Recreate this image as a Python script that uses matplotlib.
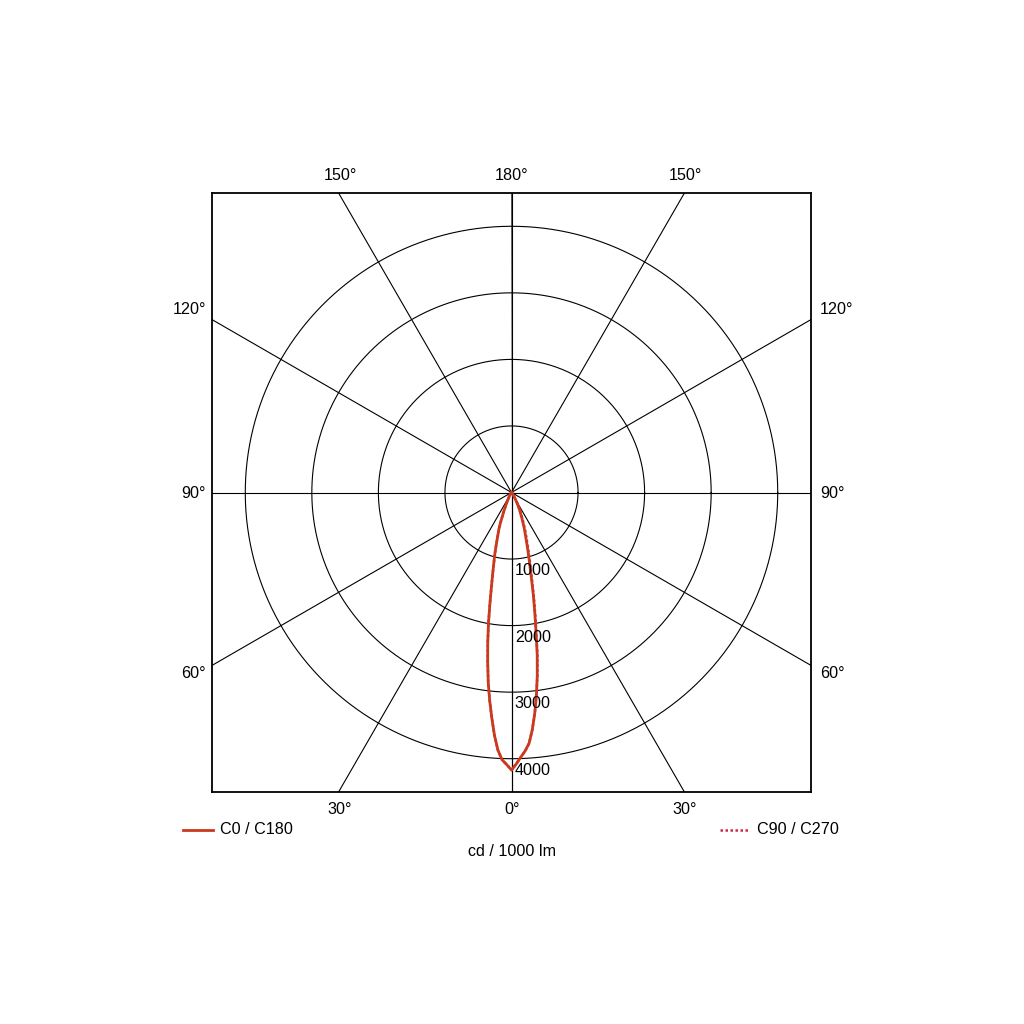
import numpy as np
import matplotlib
matplotlib.use("Agg")
import matplotlib.pyplot as plt

plt.rcParams['font.family'] = ['Liberation Sans', 'DejaVu Sans']

# Photometric data (cd / 1000 lm)
gamma = [0, 1, 2, 3, 4, 5, 6, 7, 8, 9, 10, 11, 12, 13, 14, 15, 16, 17, 18, 19, 20,
         22, 25, 28, 30, 35, 40, 45, 50, 60, 70, 80, 90]
c0   = [4170, 4080, 3980, 3890, 3780, 3580, 3340, 3070, 2780, 2470, 2120, 1830, 1580, 1340,
        1150, 1010, 880, 770, 680, 610, 540, 420, 283, 170, 110, 40, 10, 0, 0, 0, 0, 0, 0]
c180 = [4170, 4090, 4020, 3880, 3660, 3400, 3140, 2870, 2570, 2280, 1990, 1700, 1450, 1260,
        1100, 980, 850, 740, 650, 580, 490, 320, 170, 90, 60, 20, 5, 0, 0, 0, 0, 0, 0]
c90  = [4170, 4080, 3980, 3890, 3780, 3580, 3340, 3070, 2790, 2490, 2150, 1870, 1620, 1390,
        1200, 1060, 930, 830, 740, 660, 590, 460, 320, 200, 130, 50, 12, 0, 0, 0, 0, 0, 0]
c270 = [4170, 4090, 4020, 3880, 3660, 3400, 3140, 2870, 2570, 2280, 1990, 1700, 1450, 1260,
        1100, 980, 850, 740, 650, 580, 490, 320, 170, 90, 60, 20, 5, 0, 0, 0, 0, 0, 0]

ring_values = [1000, 2000, 3000, 4000]
spoke_angles = [0, 30, 60, 90, 120, 150, 180]
legend_labels = ["C0 / C180", "C90 / C270"]
unit_label = "cd / 1000 lm"

solid_color = "#c93a1e"
dot_color = "#cc2a45"
FS = 11.6

W = 1024
fig = plt.figure(figsize=(10.24, 10.24), dpi=100)
fig.patch.set_facecolor("white")
L, R, T, B = 212, 811, 193, 792
ax = fig.add_axes([L / W, 1 - B / W, (R - L) / W, (B - T) / W])
lim = 4500
ax.set_xlim(-lim, lim)
ax.set_ylim(-lim, lim)
ax.set_aspect('equal')
ax.set_xticks([])
ax.set_yticks([])
for s in ax.spines.values():
    s.set_linewidth(1.3)
    s.set_color("black")

# rings
t = np.linspace(0, 2 * np.pi, 400)
for r in ring_values:
    ax.plot(r * np.cos(t), r * np.sin(t), color="black", lw=0.8, zorder=1)
    ax.text(50, -r - 60, str(r), ha="left", va="top", fontsize=FS, zorder=5)

# spokes
for a in spoke_angles:
    rad = np.deg2rad(a)
    for sgn in (1, -1):
        ax.plot([0, sgn * 10000 * np.sin(rad)], [0, -10000 * np.cos(rad)],
                color="black", lw=0.8, zorder=1)

def curve(right, left):
    g = np.deg2rad(np.array(gamma))
    r_ = np.array(right, float)
    l_ = np.array(left, float)
    xs = np.concatenate([-(l_ * np.sin(g))[::-1], r_ * np.sin(g)])
    ys = np.concatenate([-(l_ * np.cos(g))[::-1], -r_ * np.cos(g)])
    return xs, ys

x2, y2 = curve(c90, c270)
ax.plot(x2, y2, color=dot_color, lw=1.8, ls=(0, (1, 1)), zorder=3)
x1, y1 = curve(c0, c180)
ax.plot(x1, y1, color=solid_color, lw=2.0, zorder=4, solid_joinstyle="round")

def ftext(x, y, s, **kw):
    fig.text(x / W, 1 - y / W, s, fontsize=FS, **kw)

# angle labels
ftext(340, 175, "150°", ha="center", va="center")
ftext(512, 175, "180°", ha="center", va="center")
ftext(685, 175, "150°", ha="center", va="center")
ftext(206, 310, "120°", ha="right", va="center")
ftext(820, 310, "120°", ha="left", va="center")
ftext(206, 494, "90°", ha="right", va="center")
ftext(820, 494, "90°", ha="left", va="center")
ftext(206, 674, "60°", ha="right", va="center")
ftext(820, 674, "60°", ha="left", va="center")
ftext(340, 810, "30°", ha="center", va="center")
ftext(512, 810, "0°", ha="center", va="center")
ftext(685, 810, "30°", ha="center", va="center")

# legend
fig.add_artist(plt.Line2D([183 / W, 213 / W], [1 - 830 / W, 1 - 830 / W],
                          color=solid_color, lw=2.0))
ftext(220, 830, legend_labels[0], ha="left", va="center")
fig.add_artist(plt.Line2D([720 / W, 748 / W], [1 - 830 / W, 1 - 830 / W],
                          color=dot_color, lw=1.8, ls=(0, (1, 1))))
ftext(757, 830, legend_labels[1], ha="left", va="center")
ftext(512, 851, unit_label, ha="center", va="center")

fig.savefig("out.png", dpi=100, facecolor="white")
